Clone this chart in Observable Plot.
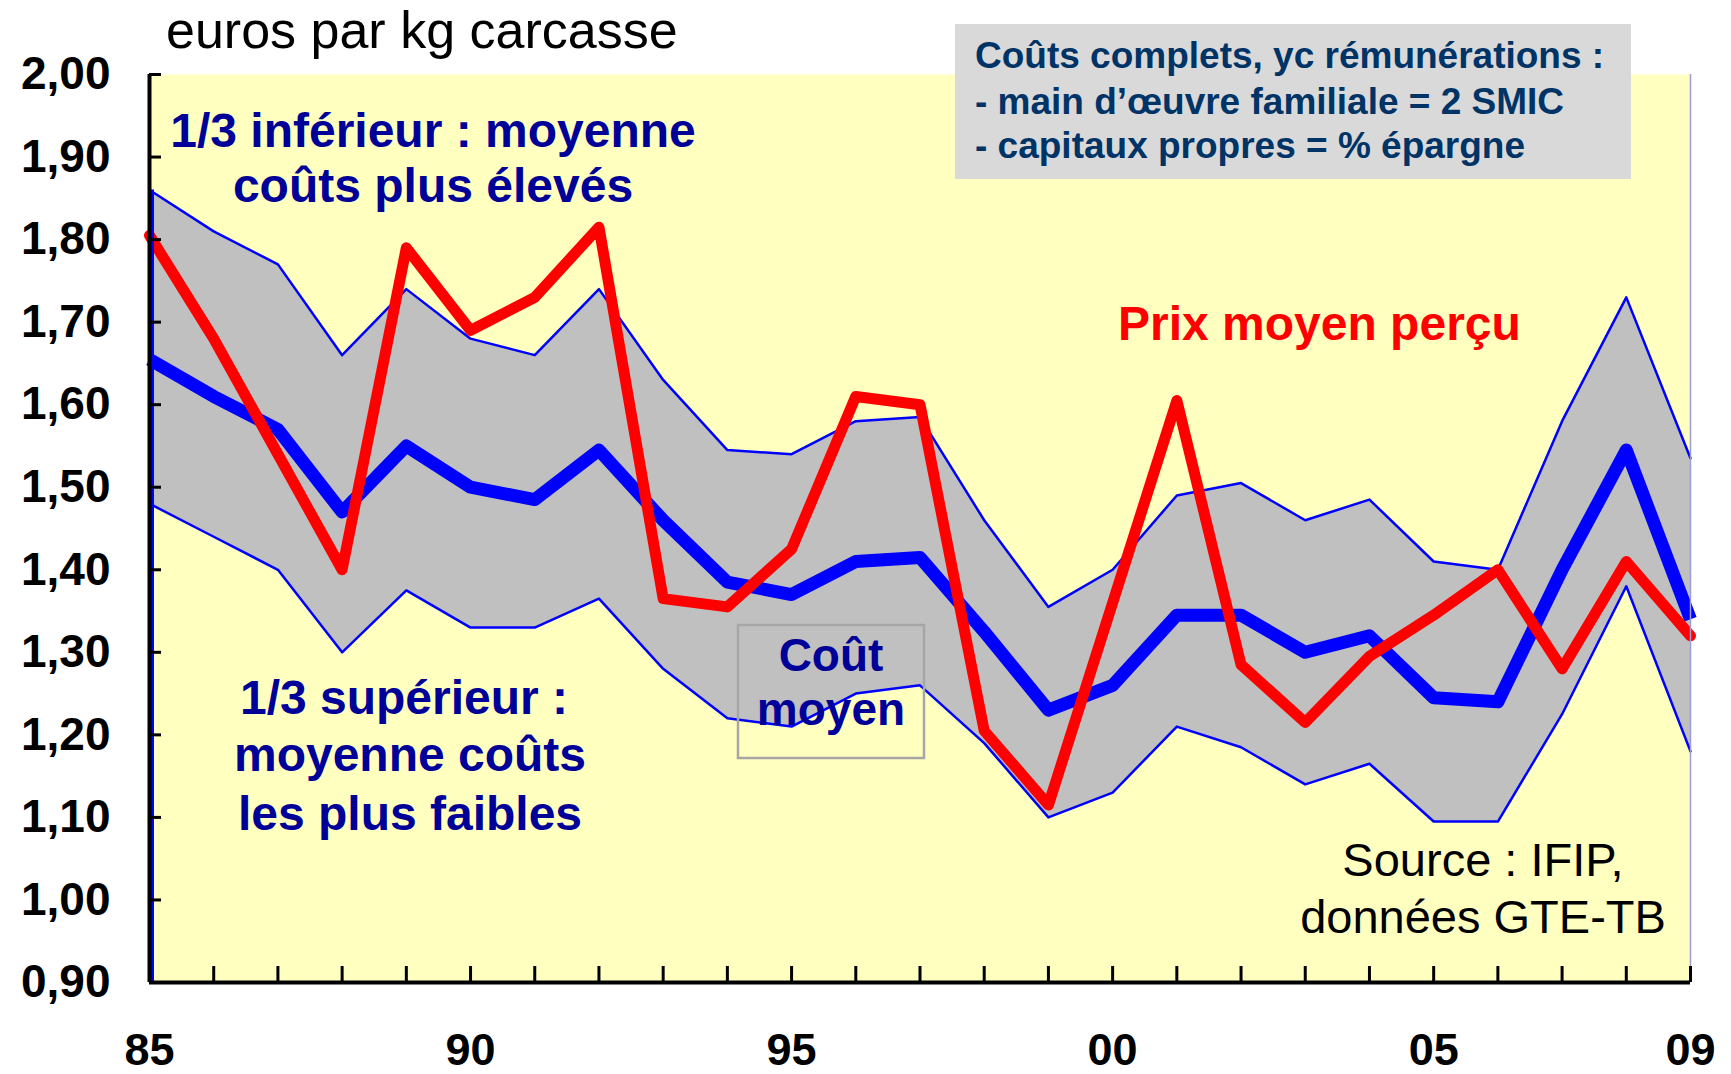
<!DOCTYPE html>
<html>
<head>
<meta charset="utf-8">
<script src="https://cdn.jsdelivr.net/npm/d3@7"></script>
<script src="https://cdn.jsdelivr.net/npm/@observablehq/plot@0.6"></script>
<style>
  html, body { margin: 0; padding: 0; background: #ffffff; }
  #chart { width: 1731px; height: 1074px; position: relative; }
</style>
</head>
<body>
<div id="chart"></div>
<script>
// ---- Data ----
const years = [1985,1986,1987,1988,1989,1990,1991,1992,1993,1994,1995,1996,1997,
               1998,1999,2000,2001,2002,2003,2004,2005,2006,2007,2008,2009];
// 1/3 inférieur : moyenne coûts plus élevés (upper band edge)
const upperCost = [1.86,1.81,1.77,1.66,1.74,1.68,1.66,1.74,1.63,1.545,1.54,1.58,1.585,
                   1.46,1.355,1.40,1.49,1.505,1.46,1.485,1.41,1.40,1.58,1.73,1.535];
// 1/3 supérieur : moyenne coûts les plus faibles (lower band edge)
const lowerCost = [1.48,1.44,1.40,1.30,1.375,1.33,1.33,1.365,1.28,1.22,1.21,1.25,1.26,
                   1.19,1.10,1.13,1.21,1.185,1.14,1.165,1.095,1.095,1.225,1.38,1.18];
// Coût moyen
const meanCost  = [1.655,1.61,1.57,1.47,1.55,1.50,1.485,1.545,1.46,1.385,1.37,1.41,1.415,
                   1.325,1.23,1.26,1.345,1.345,1.30,1.32,1.245,1.24,1.40,1.545,1.34];
// Prix moyen perçu
const price     = [1.805,1.68,1.54,1.40,1.79,1.69,1.73,1.815,1.365,1.355,1.425,1.61,1.60,
                   1.205,1.115,1.36,1.605,1.285,1.215,1.295,1.345,1.40,1.28,1.41,1.32];

const yTicks = [0.9,1.0,1.1,1.2,1.3,1.4,1.5,1.6,1.7,1.8,1.9,2.0];
const yTickLabels = ["0,90","1,00","1,10","1,20","1,30","1,40","1,50","1,60","1,70","1,80","1,90","2,00"];
const xLabelYears = [1985,1990,1995,2000,2005,2009];
const xTickLabels = ["85","90","95","00","05","09"];

const rows = years.map((year, i) => ({
  year, upper: upperCost[i], lower: lowerCost[i], mean: meanCost[i], price: price[i]
}));

const W = 1731, H = 1074;
const mL = 149, mR = 41, mT = 74, mB = 92;
const plotW = W - mL - mR, plotH = H - mT - mB;
const FONT = "'Liberation Sans', Arial, Helvetica, sans-serif";

const svgNode = Plot.plot({
  width: W,
  height: H,
  marginLeft: mL, marginRight: mR, marginTop: mT, marginBottom: mB,
  style: { fontFamily: FONT, background: "#ffffff", overflow: "visible" },
  x: { domain: [1985, 2009], label: null },
  y: { domain: [0.9, 2.0], label: null },
  marks: [
    Plot.frame({ fill: "#FFFFC0", stroke: "none" }),
    Plot.areaY(rows, { x: "year", y1: "lower", y2: "upper", fill: "#C0C0C0" }),
    Plot.lineY(rows, { x: "year", y: "upper", stroke: "#0000FF", strokeWidth: 2.5 }),
    Plot.lineY(rows, { x: "year", y: "lower", stroke: "#0000FF", strokeWidth: 2.5 }),
    Plot.lineY(rows, { x: "year", y: "mean", stroke: "#0000FF", strokeWidth: 13,
                       strokeLinejoin: "round", strokeLinecap: "butt" }),
    Plot.lineY(rows, { x: "year", y: "price", stroke: "#FF0000", strokeWidth: 11,
                       strokeLinejoin: "round", strokeLinecap: "round" }),
    // plot area edges
    Plot.ruleX([2009], { stroke: "#9c9cd8", strokeWidth: 1.5 }),
    Plot.ruleX(rows.slice(0, 1), { x: "year", y1: () => 0.9, y2: "upper",
                                   stroke: "#0000FF", strokeWidth: 3, dx: 3 }),
    Plot.ruleX([1985], { stroke: "#000000", strokeWidth: 4 }),
    Plot.ruleY([0.9], { stroke: "#000000", strokeWidth: 4 }),
    // inward ticks
    Plot.tickX(years, { x: d => d, insetTop: plotH - 16, stroke: "#000000", strokeWidth: 3 }),
    Plot.tickY(yTicks, { y: d => d, insetRight: plotW - 12, stroke: "#000000", strokeWidth: 3 }),
    // axis labels
    Plot.axisX({ ticks: xLabelYears, tickSize: 0, tickPadding: 51,
                 tickFormat: d => xTickLabels[xLabelYears.indexOf(d)],
                 fontSize: 45, fontWeight: "bold", fill: "#000000" }),
    Plot.axisY({ ticks: yTicks, tickSize: 0, tickPadding: 39,
                 tickFormat: d => yTickLabels[yTicks.indexOf(d)],
                 fontSize: 46, fontWeight: "bold", fill: "#000000" })
  ]
});

document.getElementById("chart").appendChild(svgNode);

// ---- Annotations (real text) ----
const svg = d3.select(svgNode);
const g = svg.append("g").attr("font-family", FONT);

function addText(txt, x, y, opts) {
  return g.append("text")
    .attr("x", x).attr("y", y)
    .attr("text-anchor", opts.anchor || "start")
    .attr("font-size", opts.size)
    .attr("font-weight", opts.weight || "normal")
    .attr("fill", opts.fill || "#000000")
    .text(txt);
}

// unit title
addText("euros par kg carcasse", 166, 48, { size: 52 });

// top-right info box
g.append("rect").attr("x", 955).attr("y", 24).attr("width", 676).attr("height", 155)
  .attr("fill", "#D9D9D9");
addText("Coûts complets, yc rémunérations :", 975, 68, { size: 37, weight: "bold", fill: "#003366" });
addText("- main d’œuvre familiale = 2 SMIC", 975, 114, { size: 37, weight: "bold", fill: "#003366" });
addText("- capitaux propres = % épargne", 975, 158, { size: 37, weight: "bold", fill: "#003366" });

// band labels
const NAVY = "#000099";
addText("1/3 inférieur : moyenne", 433, 147, { size: 48, weight: "bold", fill: NAVY, anchor: "middle" });
addText("coûts plus élevés", 433, 202, { size: 48, weight: "bold", fill: NAVY, anchor: "middle" });
addText("1/3 supérieur :", 404, 714, { size: 48, weight: "bold", fill: NAVY, anchor: "middle" });
addText("moyenne coûts", 410, 771, { size: 48, weight: "bold", fill: NAVY, anchor: "middle" });
addText("les plus faibles", 410, 830, { size: 48, weight: "bold", fill: NAVY, anchor: "middle" });

// Coût moyen box
g.append("rect").attr("x", 738).attr("y", 625).attr("width", 186).attr("height", 133)
  .attr("fill", "none").attr("stroke", "#a6a6a6").attr("stroke-width", 2.5);
addText("Coût", 831, 671, { size: 46, weight: "bold", fill: NAVY, anchor: "middle" });
addText("moyen", 831, 725, { size: 46, weight: "bold", fill: NAVY, anchor: "middle" });

// price label
addText("Prix moyen perçu", 1118, 340, { size: 48, weight: "bold", fill: "#FF0000" });

// source
addText("Source : IFIP,", 1483, 876, { size: 47, anchor: "middle" });
addText("données GTE-TB", 1483, 933, { size: 47, anchor: "middle" });
</script>
</body>
</html>
